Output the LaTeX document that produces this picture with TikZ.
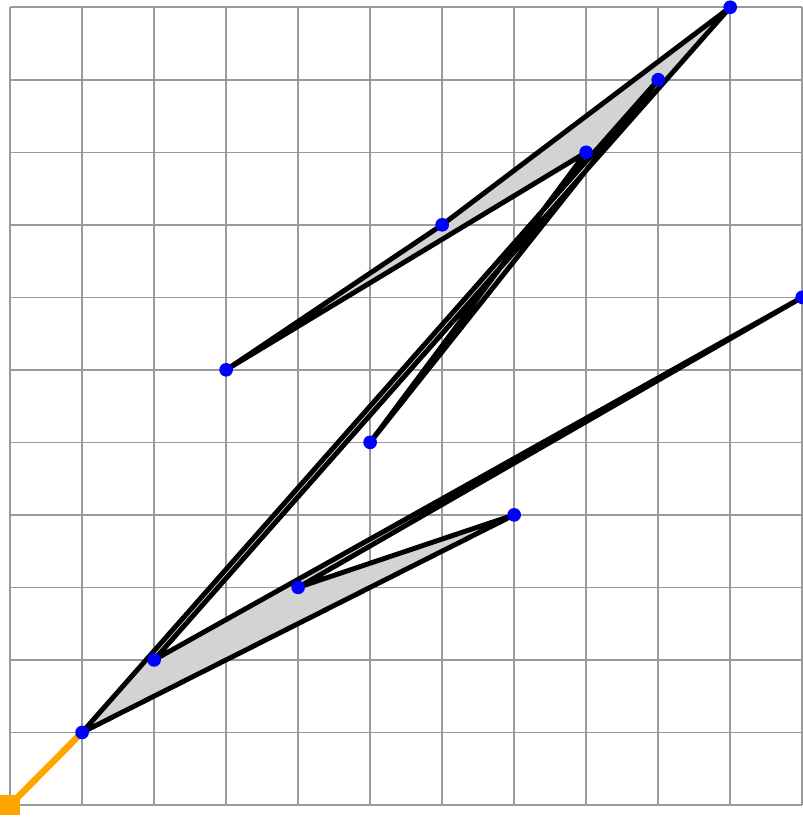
\documentclass[tikz,border=0pt]{standalone}
\usetikzlibrary{positioning}
\definecolor{GridGray}{HTML}{9A9A9A}
\definecolor{FillGray}{HTML}{D3D3D3}
\definecolor{LeadOrange}{HTML}{FFA500}
\definecolor{DotBlue}{HTML}{0000FF}

\begin{document}
\begin{tikzpicture}[
    x=1cm, y=1.007cm,
    gridline/.style={draw=GridGray, line width=0.6pt},
    region/.style={fill=FillGray, draw=black, line width=1.95pt, line join=round, even odd rule},
    lead/.style={draw=LeadOrange, line width=2.6pt},
    origin/.style={rectangle, fill=LeadOrange, inner sep=0pt, minimum size=0.28cm},
    dot/.style={circle, fill=DotBlue, inner sep=0pt, minimum size=5.4pt}
  ]
    \useasboundingbox (-0.14,-0.18) rectangle (11.01,11.1);

    % Grid
    \foreach \i in {0,...,11} {
      \draw[gridline] (\i,0) -- (\i,11);
      \draw[gridline] (0,\i) -- (11,\i);
    }

    % Points
    \coordinate (v0) at (0,0);
    \coordinate (v1) at (1,1);
    \coordinate (v2) at (9,10);
    \coordinate (v3) at (5,5);
    \coordinate (v4) at (8,9);
    \coordinate (v5) at (3,6);
    \coordinate (v6) at (6,8);
    \coordinate (v7) at (10,11);
    \coordinate (v8) at (2,2);
    \coordinate (v9) at (11,7);
    \coordinate (v10) at (4,3);
    \coordinate (v11) at (7,4);

    % Polygon
    \path[region] (v1) -- (v2) -- (v3) -- (v4) -- (v5) -- (v6) -- (v7)
      -- (v8) -- (v9) -- (v10) -- (v11) -- cycle;

    % Lead-in from the origin
    \draw[lead] (v0) -- (v1);
    \node[origin] (start) at (v0) {};

    % Vertices
    \foreach \p in {v1,v2,v3,v4,v5,v6,v7,v8,v9,v10,v11}
      \node[dot] (\p-dot) at (\p) {};
\end{tikzpicture}
\end{document}
